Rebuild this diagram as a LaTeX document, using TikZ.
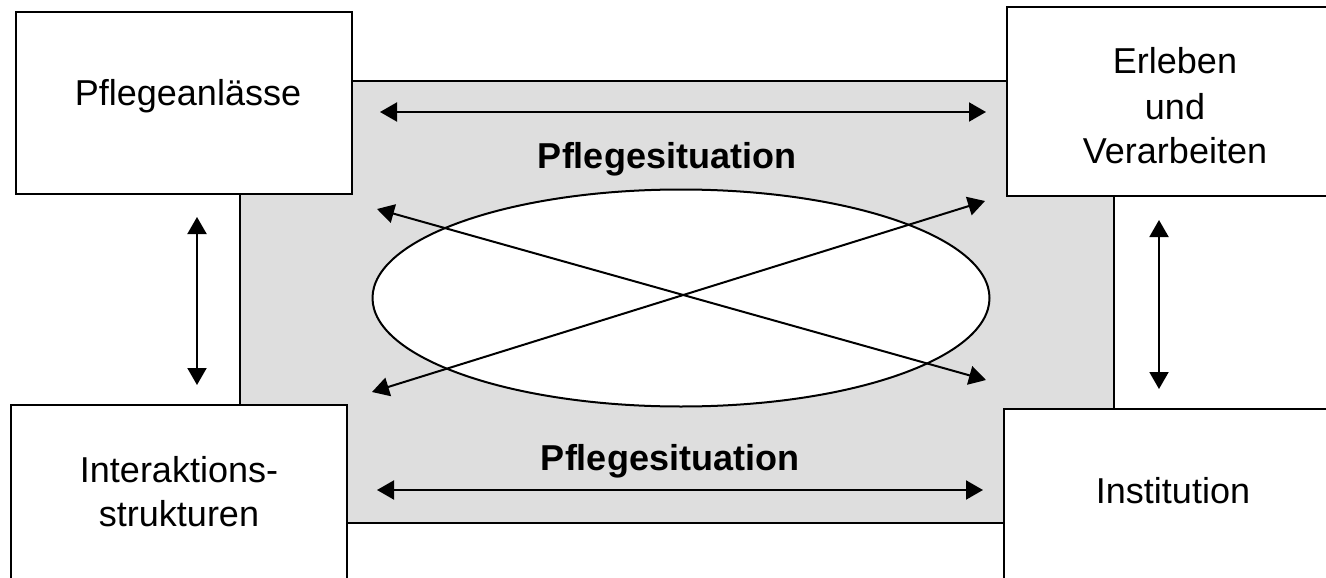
\documentclass[tikz,border=0pt]{standalone}
\usepackage{fontspec}
\setmainfont{Liberation Sans}
\usetikzlibrary{arrows.meta,shapes.geometric}
\begin{document}
\begin{tikzpicture}[x=1pt,y=-1pt,
  box/.style={draw,fill=white,line width=2pt,rectangle,inner sep=0pt},
  lbl/.style={font=\fontsize{36}{44}\selectfont,anchor=base,inner sep=0pt},
  bold/.style={lbl,font=\fontsize{36}{44}\selectfont\bfseries},
  tip/.tip={Triangle[length=17pt,width=19pt]},
  both/.style={tip-tip,line width=2pt}]
\useasboundingbox (0,0) rectangle (1326,578);

% grey field behind everything
\node[draw,fill=black!13,line width=2pt,rectangle,inner sep=0pt,
      minimum width=874pt,minimum height=441pt] (field) at (677,302) {};

% the four corner boxes
\node[box,minimum width=336pt,minimum height=182pt] (anl) at (184,103) {};
\node[box,minimum width=333pt,minimum height=189pt] (erl) at (1173.5,101.5) {};
\node[box,minimum width=336pt,minimum height=195pt] (inter) at (179,502.5) {};
\node[box,minimum width=336pt,minimum height=191pt] (inst) at (1172,504.5) {};

% central ellipse
\node[draw,fill=white,ellipse,line width=2pt,inner sep=0pt,
      minimum width=617pt,minimum height=217pt] (sit) at (681,298) {};

% labels
\node[lbl] (tanl) at (188,106) {Pflegeanlässe};
\node[lbl] (terl1) at (1175,74) {Erleben};
\node[lbl] (terl2) at (1175,119) {und};
\node[lbl] (terl3) at (1175,163) {Verarbeiten};
\node[lbl] (tint1) at (179,482) {Interaktions-};
\node[lbl] (tint2) at (179,526) {strukturen};
\node[lbl] (tinst) at (1173,503) {Institution};
\node[bold] (ps1) at (667,168) {Pflegesituation};
\node[bold] (ps2) at (670,470) {Pflegesituation};

% arrow end points
\coordinate (h1a) at (380,112);  \coordinate (h1b) at (986,112);
\coordinate (h2a) at (377,490);  \coordinate (h2b) at (983,490);
\coordinate (d1a) at (377,209);  \coordinate (d1b) at (986,380);
\coordinate (d2a) at (372,392);  \coordinate (d2b) at (985,201);
\coordinate (v1a) at (197,217);  \coordinate (v1b) at (197,385);
\coordinate (v2a) at (1159,220); \coordinate (v2b) at (1159,389);

\draw[both] (h1a) -- (h1b);
\draw[both] (h2a) -- (h2b);
\draw[both] (d1a) -- (d1b);
\draw[both] (d2a) -- (d2b);
\draw[both] (v1a) -- (v1b);
\draw[both] (v2a) -- (v2b);
\end{tikzpicture}
\end{document}
